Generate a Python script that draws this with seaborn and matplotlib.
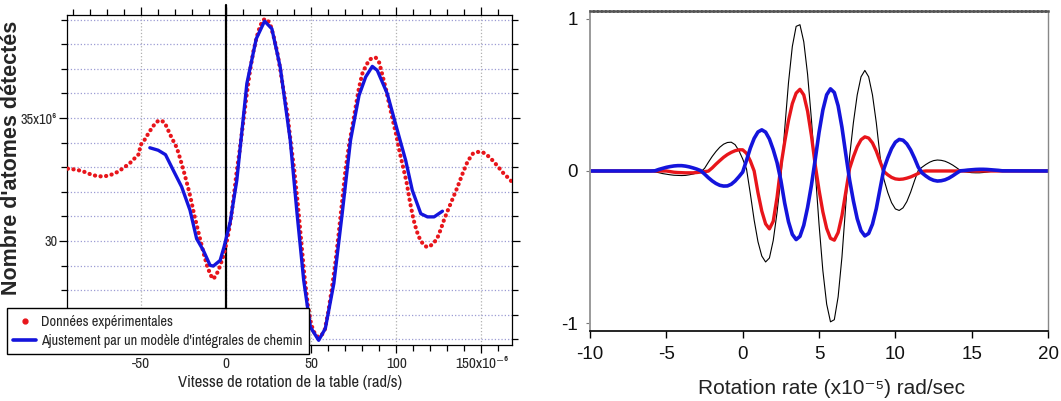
import matplotlib
matplotlib.use('Agg')
import matplotlib.pyplot as plt
from matplotlib import font_manager
from matplotlib.lines import Line2D
from matplotlib.ticker import FixedLocator, MultipleLocator
import seaborn as sns

# Left panel: measured atom counts (millions) vs table rotation rate (1e-6 rad/s)
exp_rate = [-93, -88, -84, -80, -76, -72, -68, -64, -60, -56, -52.5, -51, -50.5, -48, -45, -42,
            -40, -38, -36, -34, -32, -29, -27, -25, -23, -21, -19, -17, -15, -13, -11, -9, -7.5,
            -6, -4.5, -3, -1.5, 0, 1.5, 3, 4.5, 6, 8, 10, 12, 14, 16, 18, 20, 22, 24, 26, 28, 30,
            32, 34, 36, 38, 40, 42, 44, 46, 48, 50, 52, 54, 56, 58, 60, 62, 64, 66, 68, 70, 72, 74,
            76, 78, 80, 82, 84, 86, 88, 90, 92, 94, 96, 98, 100, 102, 104, 106, 108, 110, 112, 114,
            116, 118, 120, 122, 124, 126, 128, 130, 133, 136, 139, 142, 145, 148, 151, 154, 157,
            160, 163, 166, 168]
exp_atoms = [32.94, 32.90, 32.83, 32.72, 32.64, 32.62, 32.68, 32.80, 32.98, 33.20, 33.45, 33.55,
             33.88, 34.10, 34.45, 34.75, 34.88, 34.90, 34.80, 34.50, 34.20, 33.80, 33.35, 32.87,
             32.35, 31.80, 31.15, 30.57, 30.00, 29.45, 28.95, 28.60, 28.45, 28.60, 28.80, 29.10,
             29.40, 29.85, 30.35, 31.00, 31.80, 32.70, 33.70, 34.80, 35.90, 36.90, 37.70, 38.30,
             38.75, 39.00, 39.02, 38.80, 38.30, 37.70, 36.90, 36.00, 35.20, 34.00, 32.90, 31.60,
             30.10, 28.60, 27.40, 26.60, 26.25, 26.10, 26.15, 26.40, 27.10, 28.00, 29.00, 30.20,
             31.50, 32.80, 33.80, 34.60, 35.40, 36.20, 36.80, 37.10, 37.35, 37.45, 37.45, 37.25,
             36.70, 36.15, 35.50, 34.90, 34.30, 33.60, 33.00, 32.40, 31.60, 30.90, 30.40, 30.05,
             29.85, 29.75, 29.80, 29.92, 30.10, 30.45, 30.85, 31.20, 31.70, 32.20, 32.75, 33.25,
             33.55, 33.62, 33.60, 33.45, 33.25, 33.00, 32.75, 32.55, 32.40]

fit_rate = [-44.8, -39.9, -35.6, -31.0, -26.1, -21.2, -17.3, -13.4, -9.4, -7.5, -3.5, -1.2, 2.4,
            6.3, 12.2, 17.7, 22.6, 26.9, 31.8, 37.7, 41.7, 45.6, 49.5, 54.4, 58.3, 63.3, 68.2,
            73.1, 78.1, 82.0, 85.9, 88.8, 94.7, 100.6, 105.5, 109.4, 114.4, 118.3, 122.2, 127.1]
fit_atoms = [33.79, 33.69, 33.51, 32.87, 32.20, 31.25, 30.09, 29.62, 29.01, 28.98, 29.21, 29.76,
             30.77, 32.47, 36.40, 38.22, 38.94, 38.63, 37.07, 34.09, 31.11, 28.40, 26.50, 25.96,
             26.44, 28.27, 31.11, 34.09, 35.92, 36.67, 37.10, 36.94, 35.99, 34.50, 33.28, 32.06,
             31.11, 30.98, 30.98, 31.21]

left_xticks = [-50, 0, 50, 100, 150]
left_xlabels = ['-50', '0', '50', '100', '150x10⁻⁶']
left_yticks = [30, 35]
left_ylabels = ['30', '35x10⁶']

# Right panel: three simulated signals vs rotation rate (1e-5 rad/sec)
rate = [-10.0, -6.0, -5.75, -5.5, -5.25, -5.0, -4.75, -4.5, -4.25, -4.0, -3.75, -3.5, -3.25, -3.0,
        -2.75, -2.5, -2.25, -2.0, -1.75, -1.5, -1.25, -1.0, -0.75, -0.5, -0.25, 0.0, 0.25, 0.5,
        0.75, 1.0, 1.25, 1.5, 1.75, 2.0, 2.25, 2.5, 2.75, 3.0, 3.25, 3.5, 3.75, 4.0, 4.25, 4.5,
        4.75, 5.0, 5.25, 5.5, 5.75, 6.0, 6.25, 6.5, 6.75, 7.0, 7.25, 7.5, 7.75, 8.0, 8.25, 8.5,
        8.75, 9.0, 9.25, 9.5, 9.75, 10.0, 10.25, 10.5, 10.75, 11.0, 11.25, 11.5, 11.75, 12.0,
        12.25, 12.5, 12.75, 13.0, 13.25, 13.5, 13.75, 14.0, 14.25, 14.5, 14.75, 15.0, 15.25,
        15.5, 15.75, 16.0, 16.25, 16.5, 16.75, 17.0, 20.0]
black_sig = [0, 0, -0.006, -0.011, -0.017, -0.021, -0.025, -0.028, -0.029, -0.030, -0.029, -0.025,
             -0.020, -0.013, -0.005, 0.017, 0.057, 0.095, 0.128, 0.156, 0.176, 0.187, 0.189, 0.173,
             0.134, 0.079, 0.013, -0.149, -0.322, -0.464, -0.558, -0.597, -0.571, -0.456, -0.272,
             -0.047, 0.273, 0.580, 0.817, 0.949, 0.960, 0.848, 0.634, 0.340, 0.0, -0.350, -0.654,
             -0.874, -0.990, -0.976, -0.826, -0.565, -0.223, 0.094, 0.317, 0.499, 0.618, 0.660,
             0.618, 0.499, 0.317, 0.094, -0.055, -0.141, -0.208, -0.249, -0.259, -0.242, -0.201,
             -0.139, -0.065, 0.004, 0.025, 0.043, 0.058, 0.068, 0.072, 0.070, 0.064, 0.053, 0.039,
             0.022, 0.004, -0.004, -0.008, -0.011, -0.012, -0.012, -0.010, -0.007, -0.003, 0.0,
             0.0, 0.0, 0]
red_sig = [0, 0, 0, 0, 0, 0, -0.004, -0.008, -0.010, -0.011, -0.012, -0.012, -0.012, -0.010,
           -0.007, -0.004, -0.001, 0.020, 0.045, 0.068, 0.090, 0.108, 0.122, 0.133, 0.139, 0.139,
           0.116, 0.066, 0.0, -0.142, -0.263, -0.347, -0.380, -0.330, -0.172, 0.032, 0.190, 0.332,
           0.442, 0.511, 0.536, 0.499, 0.392, 0.233, 0.040, -0.125, -0.268, -0.377, -0.442, -0.454,
           -0.404, -0.293, -0.139, 0.016, 0.093, 0.159, 0.205, 0.224, 0.216, 0.184, 0.130, 0.061,
           -0.004, -0.025, -0.042, -0.052, -0.055, -0.053, -0.047, -0.039, -0.028, -0.016, -0.003,
           0, 0, 0, 0, 0, 0, 0, 0, 0, 0, 0, 0, 0, 0, 0, 0, 0, 0, 0, 0, 0, 0]
blue_sig = [0, 0, 0.001, 0.010, 0.017, 0.024, 0.029, 0.033, 0.035, 0.035, 0.032, 0.027, 0.020,
            0.012, 0.002, -0.020, -0.044, -0.065, -0.082, -0.094, -0.099, -0.098, -0.087, -0.066,
            -0.038, -0.007, 0.070, 0.150, 0.214, 0.256, 0.270, 0.255, 0.210, 0.140, 0.055, -0.062,
            -0.211, -0.333, -0.416, -0.450, -0.429, -0.356, -0.239, -0.094, 0.075, 0.253, 0.400,
            0.500, 0.539, 0.515, 0.428, 0.287, 0.112, -0.058, -0.196, -0.313, -0.392, -0.426,
            -0.410, -0.349, -0.247, -0.115, 0.015, 0.086, 0.147, 0.189, 0.207, 0.202, 0.178, 0.138,
            0.085, 0.025, -0.013, -0.033, -0.050, -0.061, -0.066, -0.064, -0.058, -0.047, -0.032,
            -0.015, 0.001, 0.003, 0.006, 0.008, 0.010, 0.011, 0.011, 0.010, 0.008, 0.006, 0.004,
            0.001, 0]

RED = '#e8151b'
BLUE = '#1414dc'

sns.set_theme(style="white")
plt.rcParams['font.family'] = ['Liberation Sans', 'DejaVu Sans']
plt.rcParams['axes.unicode_minus'] = False

# narrow face for the left panel (the original uses an Arial Narrow look)
installed = {f.name for f in font_manager.fontManager.ttflist}
narrow_pick = [n for n in ['Liberation Sans Narrow', 'Arial Narrow', 'Archivo Narrow',
                           'PT Sans Narrow', 'Roboto Condensed', 'Pragati Narrow',
                           'Fira Sans Condensed', 'Open Sans Condensed'] if n in installed]
NARROW = narrow_pick[:1] + ['Liberation Sans', 'DejaVu Sans']
nscale = 1.0 if narrow_pick else 0.82

fig = plt.figure(figsize=(10.61, 4.01), dpi=100)
ax1 = fig.add_axes([0.0631, 0.1397, 0.4195, 0.8229])
ax2 = fig.add_axes([0.5561, 0.1746, 0.4317, 0.7980])

# ---- left panel
ax1.axvline(0, color='black', lw=1.6, ymax=1.03, clip_on=False, zorder=1.5)
sns.lineplot(x=exp_rate, y=exp_atoms, ax=ax1, color=RED, linewidth=3.0,
             estimator=None, sort=False, zorder=3)
red_line = ax1.get_lines()[-1]
red_line.set_linestyle((0, (0.05, 1.3)))
red_line.set_dash_capstyle('round')
sns.lineplot(x=fit_rate, y=fit_atoms, ax=ax1, color=BLUE, linewidth=2.4,
             estimator=None, sort=False, zorder=4)

ax1.set_xlim(-93.5, 168)
ax1.set_ylim(25.77, 39.19)
ax1.xaxis.set_major_locator(FixedLocator(left_xticks))
ax1.set_xticklabels(left_xlabels, fontfamily=NARROW, fontsize=11 * nscale)
ax1.xaxis.set_minor_locator(MultipleLocator(10))
ax1.yaxis.set_major_locator(FixedLocator(left_yticks))
ax1.set_yticklabels(left_ylabels, fontfamily=NARROW, fontsize=10.3 * nscale)
ax1.yaxis.set_minor_locator(MultipleLocator(1))
ax1.yaxis.grid(True, which='both', linestyle=':', color='#9c9cd4', linewidth=0.9)
ax1.xaxis.grid(True, which='major', linestyle=':', color='#b0b0b0', linewidth=0.9)
ax1.tick_params(which='both', direction='out', bottom=True, left=True, top=True, right=True,
                color='black', width=0.9)
ax1.tick_params(which='major', length=6)
ax1.tick_params(which='minor', length=4)
ax1.tick_params(axis='x', pad=3)
ax1.tick_params(axis='y', pad=1)
for sp in ax1.spines.values():
    sp.set_color('black')
    sp.set_linewidth(0.9)
ax1.set_xlabel('')
ax1.set_ylabel('')

fig.text(0.0105, 0.607, "Nombre d'atomes détectés", rotation=90, ha='center', va='center',
         fontsize=15.5, fontweight='bold')
fig.text(0.2733, 0.045, 'Vitesse de rotation de la table (rad/s)', ha='center', va='center',
         fontfamily=NARROW, fontsize=12 * nscale)

handles = [Line2D([], [], marker='o', markersize=3.5, color=RED, linestyle='none'),
           Line2D([], [], color=BLUE, linewidth=2.6)]
leg = fig.legend(handles, ['Données expérimentales',
                           "Ajustement par un modèle d'intégrales de chemin"],
                 loc='lower left', bbox_to_anchor=(0.0066, 0.117), borderaxespad=0,
                 prop={'family': NARROW, 'size': 10.3 * nscale}, frameon=True,
                 fancybox=False, edgecolor='black', framealpha=1, borderpad=0.45,
                 handlelength=1.6, handletextpad=0.35, labelspacing=0.35)
leg.get_frame().set_linewidth(1.0)

# ---- right panel
sns.lineplot(x=rate, y=black_sig, ax=ax2, color='black', linewidth=0.8,
             estimator=None, sort=False)
sns.lineplot(x=rate, y=red_sig, ax=ax2, color=RED, linewidth=2.4,
             estimator=None, sort=False)
sns.lineplot(x=rate, y=blue_sig, ax=ax2, color=BLUE, linewidth=2.6,
             estimator=None, sort=False)

ax2.set_xlim(-10, 20)
ax2.set_ylim(-1.05, 1.05)
ax2.set_xticks([-10, -5, 0, 5, 10, 15, 20])
ax2.set_yticks([-1, 0, 1])
ax2.tick_params(axis='both', labelsize=13.5, labelcolor='#111111', direction='out', pad=6)
ax2.tick_params(axis='x', bottom=True, length=5, width=1, color='black')
ax2.tick_params(axis='y', left=True, length=3, width=0.8, color='#777777')
ax2.spines['top'].set_color('#555555')
ax2.spines['top'].set_linewidth(1.8)
ax2.spines['top'].set_linestyle((0, (1, 0.6)))
ax2.spines['left'].set_color('#9a9a9a')
ax2.spines['left'].set_linewidth(1.4)
ax2.spines['right'].set_color('#888888')
ax2.spines['right'].set_linewidth(1.0)
ax2.spines['bottom'].set_color('black')
ax2.spines['bottom'].set_linewidth(1.2)
ax2.set_xlabel('')
ax2.set_ylabel('')
fig.text(0.784, 0.032, 'Rotation rate (x10⁻⁵) rad/sec', ha='center', va='center',
         fontsize=15, color='#222222')

fig.savefig('out.png', dpi=100)
